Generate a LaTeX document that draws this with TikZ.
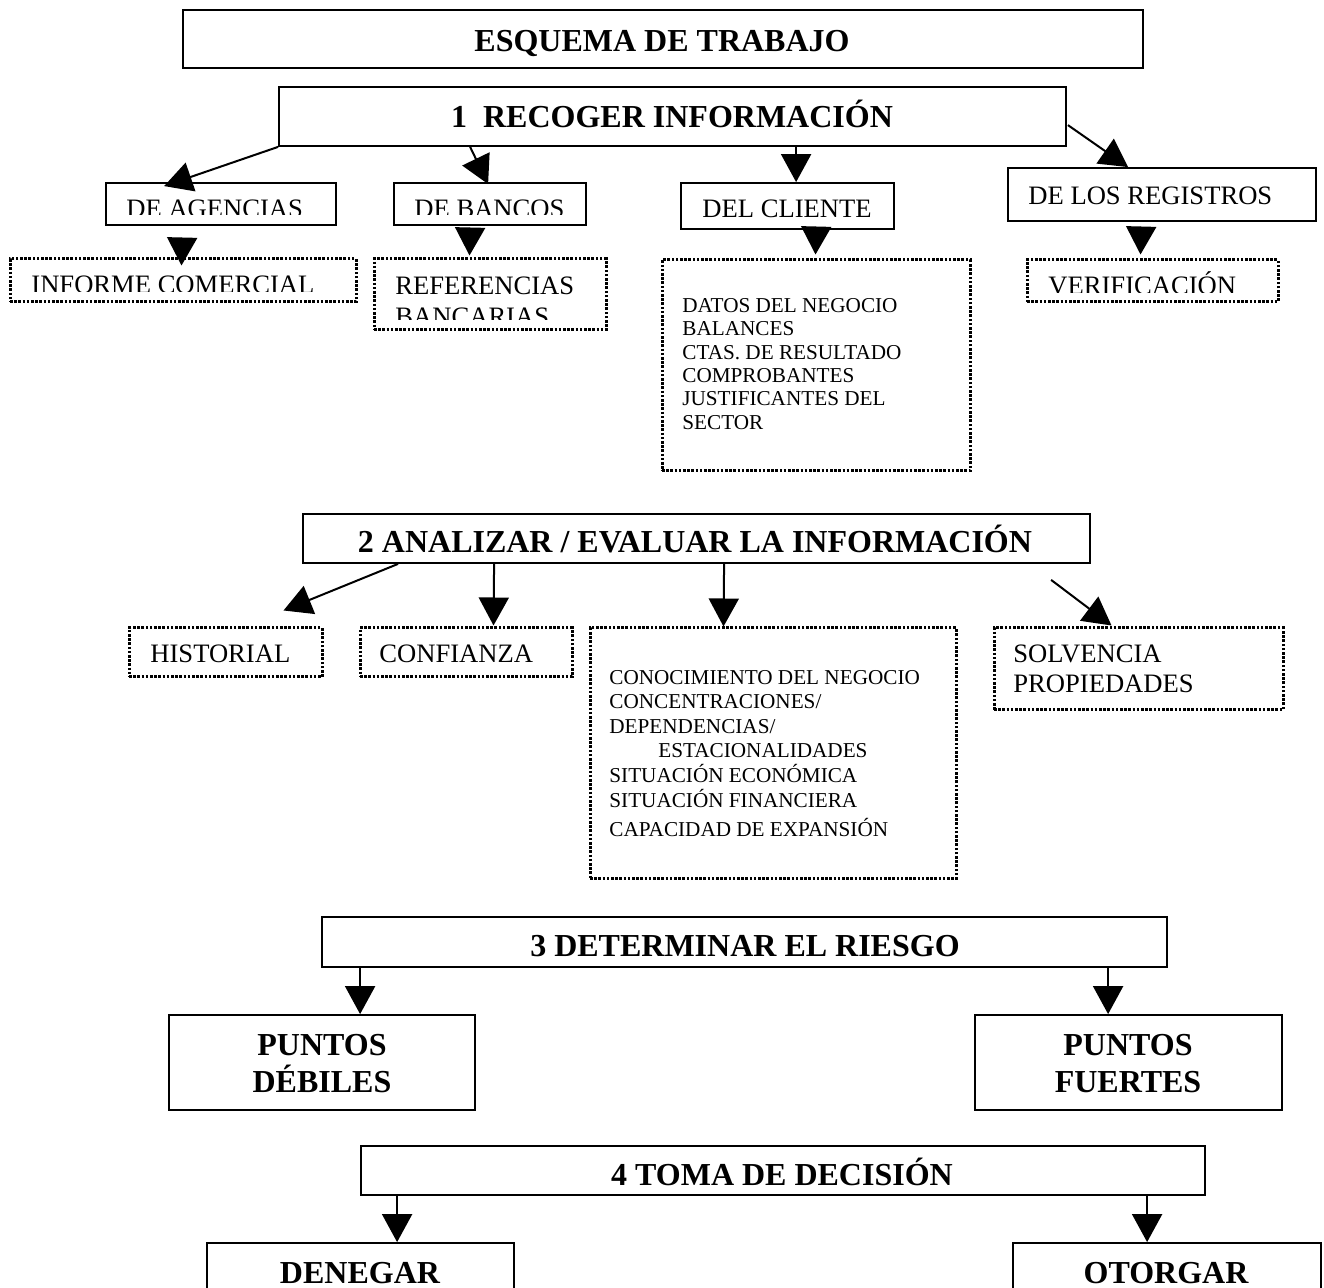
\documentclass[tikz,border=0pt]{standalone}
\usepackage{fontspec}
\setmainfont{Liberation Serif}
\usetikzlibrary{arrows.meta,fit,calc}
\begin{document}
\begin{tikzpicture}[x=0.5pt,y=-0.5pt,
  box/.style={draw, line width=0.9pt, inner sep=0pt},
  dbox/.style={draw, line width=1.5pt, dash pattern=on 1.3pt off 0.8pt, inner sep=0pt},
  arr/.style={line width=1pt, -{Triangle[length=14pt,width=15pt]}},
  ttl/.style={font=\fontsize{16}{19}\selectfont\bfseries, inner sep=0pt, anchor=base},
  lbl/.style={font=\fontsize{13.3}{16}\selectfont, inner sep=0pt, anchor=base west},
  sml/.style={font=\fontsize{10.6}{12}\selectfont, inner sep=0pt, anchor=base west}]
\useasboundingbox (0,0) rectangle (1324,1288);
\clip (0,0) rectangle (1324,1288);
\fill[white] (0,0) rectangle (1324,1288);

% ---- boxes ----
\node[box, fit={(183,10) (1143,68)}] (title) {};
\node[box, fit={(279,87) (1066,146)}] (box1) {};
\node[box, fit={(106,183) (336,225)}] (agencias) {};
\node[box, fit={(394,183) (586,225)}] (bancos) {};
\node[box, fit={(681,183) (894,229)}] (cliente) {};
\node[box, fit={(1008,168) (1316,221)}] (registros) {};
\node[dbox, fit={(10,259) (356,302)}] (informe) {};
\node[dbox, fit={(374,259) (606,330)}] (referencias) {};
\node[dbox, fit={(662,260) (970,471)}] (datos) {};
\node[dbox, fit={(1027,260) (1278,302)}] (verif) {};
\node[box, fit={(303,514) (1090,563)}] (box2) {};
\node[dbox, fit={(129,628) (322,677)}] (historial) {};
\node[dbox, fit={(360,628) (572,677)}] (confianza) {};
\node[dbox, fit={(590,628) (956,879)}] (big) {};
\node[dbox, fit={(994,628) (1283,710)}] (solvencia) {};
\node[box, fit={(322,917) (1167,967)}] (box3) {};
\node[box, fit={(169,1015) (475,1110)}] (debiles) {};
\node[box, fit={(975,1015) (1282,1110)}] (fuertes) {};
\node[box, fit={(361,1146) (1205,1195)}] (box4) {};
\node[box, fit={(207,1243) (514,1330)}] (denegar) {};
\node[box, fit={(1013,1243) (1321,1330)}] (otorgar) {};

% ---- titles ----
\node[ttl] (ttitle) at (662,52) {ESQUEMA DE TRABAJO};
\node[ttl] (tbox1) at (672,128) {1\ \ RECOGER INFORMACIÓN};
\node[ttl] (tbox2) at (695,553) {2 ANALIZAR / EVALUAR LA INFORMACIÓN};
\node[ttl] (tbox3) at (745,957) {3 DETERMINAR EL RIESGO};
\node[ttl] (tbox4) at (782,1185) {4 TOMA DE DECISIÓN};
\node[ttl] (tdeb1) at (322,1055) {PUNTOS};
\node[ttl] (tdeb2) at (322,1092) {DÉBILES};
\node[ttl] (tfue1) at (1128,1055) {PUNTOS};
\node[ttl] (tfue2) at (1128,1092) {FUERTES};
\node[ttl] (tden) at (360,1283) {DENEGAR};
\node[ttl] (toto) at (1166,1283) {OTORGAR};

% ---- labels (some clipped as in the source) ----
\begin{scope}
  \clip (106,183) rectangle (336,215);
  \node[lbl] (tagencias) at (126,218) {DE AGENCIAS};
\end{scope}
\begin{scope}
  \clip (394,183) rectangle (586,215);
  \node[lbl] (tbancos) at (414,218) {DE BANCOS};
\end{scope}
\node[lbl] (tcliente) at (702,218) {DEL CLIENTE};
\node[lbl] (tregistros) at (1028,205) {DE LOS REGISTROS};
\begin{scope}
  \clip (10,259) rectangle (356,292);
  \node[lbl] (tinforme) at (31,294) {INFORME COMERCIAL};
\end{scope}
\begin{scope}
  \clip (374,259) rectangle (606,320);
  \node[lbl] (tref1) at (395,295) {REFERENCIAS};
  \node[lbl] (tref2) at (395,326) {BANCARIAS};
\end{scope}
\begin{scope}
  \clip (1027,260) rectangle (1278,293);
  \node[lbl] (tverif) at (1048,295) {VERIFICACIÓN};
\end{scope}
\node[lbl] (thist) at (150,663) {HISTORIAL};
\node[lbl] (tconf) at (379,663) {CONFIANZA};
\node[lbl] (tsolv1) at (1013,663) {SOLVENCIA};
\node[lbl] (tsolv2) at (1013,693) {PROPIEDADES};

% ---- small text ----
\node[sml] (d1) at (682,313) {DATOS DEL NEGOCIO};
\node[sml] (d2) at (682,336) {BALANCES};
\node[sml] (d3) at (682,360) {CTAS. DE RESULTADO};
\node[sml] (d4) at (682,383) {COMPROBANTES};
\node[sml] (d5) at (682,406) {JUSTIFICANTES DEL};
\node[sml] (d6) at (682,430) {SECTOR};

\node[sml] (b1) at (609,685) {CONOCIMIENTO DEL NEGOCIO};
\node[sml] (b2) at (609,709) {CONCENTRACIONES/};
\node[sml] (b3) at (609,734) {DEPENDENCIAS/};
\node[sml] (b4) at (658,758) {ESTACIONALIDADES};
\node[sml] (b5) at (609,783) {SITUACIÓN ECONÓMICA};
\node[sml] (b6) at (609,808) {SITUACIÓN FINANCIERA};
\node[sml] (b7) at (609,837) {CAPACIDAD DE EXPANSIÓN};

% ---- connectors ----
\draw[arr] (box1.south west) -- ($(agencias.north west)+(59,4)$);
\draw[arr] ($(box1.south west)+(192,0)$) -- ($(bancos.north west)+(95,2)$);
\draw[arr] ($(box1.south west)+(518,0)$) -- ($(cliente.north west)+(116,0)$);
\draw[arr] ($(box1.north east)+(1,39)$) -- ($(registros.north west)+(121,0)$);
\draw[arr] ($(agencias.south west)+(77,15)$) -- ($(informe.north west)+(173,8)$);
\draw[arr] ($(bancos.south west)+(77,4)$) -- ($(referencias.north west)+(97,-2)$);
\draw[arr] ($(cliente.south west)+(136,1)$) -- ($(datos.north west)+(155,-4)$);
\draw[arr] ($(registros.south west)+(134,9)$) -- ($(verif.north west)+(115,-4)$);

\draw[arr] ($(box2.south west)+(96,0)$) -- ($(historial.north west)+(156,-16)$);
\draw[arr] ($(box2.south west)+(192,0)$) -- ($(confianza.north west)+(135,-1)$);
\draw[arr] ($(box2.south west)+(422,0)$) -- ($(big.north west)+(135,0)$);
\draw[arr] ($(box2.south west)+(749,16)$) -- ($(solvencia.north west)+(119,-1)$);

\draw[arr] ($(box3.south west)+(39,0)$) -- ($(debiles.north west)+(192,0)$);
\draw[arr] ($(box3.south west)+(787,0)$) -- ($(fuertes.north west)+(134,0)$);
\draw[arr] ($(box4.south west)+(37,0)$) -- ($(denegar.north west)+(191,0)$);
\draw[arr] ($(box4.south west)+(787,0)$) -- ($(otorgar.north west)+(135,0)$);
\end{tikzpicture}
\end{document}
